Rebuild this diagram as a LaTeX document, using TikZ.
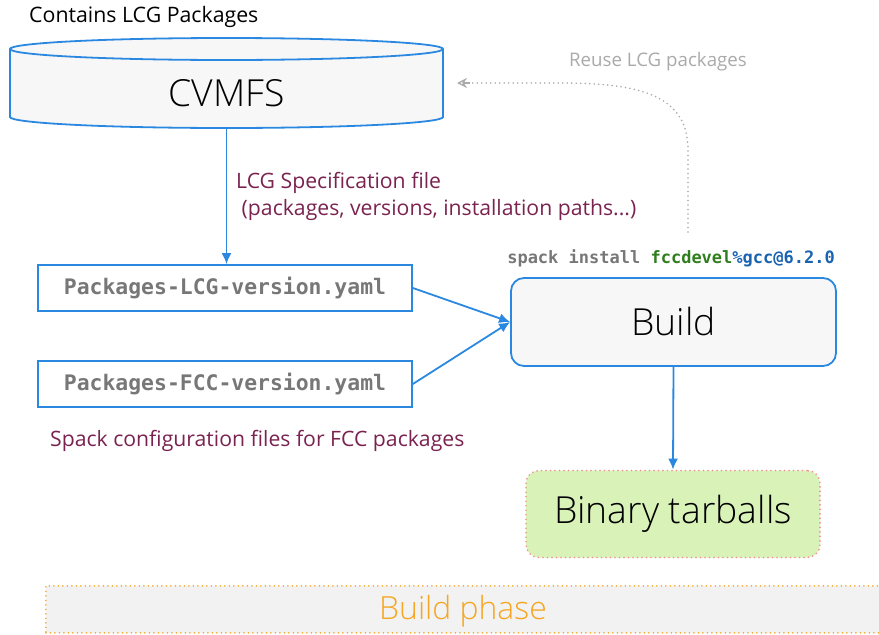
\documentclass[tikz,border=0pt]{standalone}
\usepackage{fontspec}
\setmainfont{Open Sans}
\newfontfamily\lightfont{Open Sans Light}
\setmonofont{DejaVu Sans Mono}
\usetikzlibrary{arrows.meta,shapes.geometric}
\definecolor{cblue}{HTML}{2B88E0}
\definecolor{cmaroon}{HTML}{7A2350}
\definecolor{cgraytxt}{HTML}{777777}
\definecolor{cgreen}{HTML}{2F7D1C}
\definecolor{cbluetxt}{HTML}{1A63B0}
\definecolor{cfill}{HTML}{F7F7F7}
\definecolor{cgreenfill}{HTML}{D8F2B8}
\definecolor{cpink}{HTML}{F09090}
\definecolor{corange}{HTML}{F5A623}
\definecolor{cphase}{HTML}{F2F2F2}
\definecolor{creuse}{HTML}{AAAAAA}
\tikzset{
  conn/.style={draw=cblue, line width=1.8pt, -{Latex[length=11pt,width=10pt]}},
  yamlbox/.style={draw=cblue, line width=1.7pt, fill=white, minimum width=374pt, minimum height=46pt, inner sep=0pt, font=\fontsize{21.4}{24}\selectfont\ttfamily\bfseries, text=cgraytxt},
  note/.style={font=\fontsize{21.2}{25}\selectfont, text=cmaroon, inner sep=0pt, anchor=west},
  bigtxt/.style={font=\lightfont\fontsize{37.3}{42}\selectfont},
  dotline/.style={line cap=round, dash pattern=on 0pt off 4.5pt}
}
\begin{document}
\begin{tikzpicture}[x=1pt,y=-1pt]
\useasboundingbox (0,0) rectangle (879,635);
% build phase
\node[draw=corange, fill=cphase, line width=1.8pt, dotline, minimum width=840pt, minimum height=47pt, anchor=north west, inner sep=0pt] (phase) at (45,585) {};
\node[font=\lightfont\fontsize{31.9}{35}\selectfont, text=corange] (phasetxt) at (463,611) {Build phase};
% CVMFS cylinder
\path[draw=cblue, fill=cfill, line width=1.8pt] (10,49) -- (10,117) arc[start angle=180, end angle=360, x radius=216.5pt, y radius=11pt] -- (443,49) arc[start angle=0, end angle=180, x radius=216.5pt, y radius=11pt] -- cycle;
\draw[cblue, line width=1.8pt] (10,49) arc[start angle=180, end angle=360, x radius=216.5pt, y radius=11pt];
\node[inner sep=0pt, minimum width=433pt, minimum height=90pt] (cvmfs) at (226.5,83) {};
\node[bigtxt] (cvmfstxt) at (226.5,93) {CVMFS};
\coordinate (cvbot) at (226.5,128);
\node[font=\fontsize{21.3}{25}\selectfont, anchor=west, inner sep=0pt] (contains) at (29,17) {Contains LCG Packages};
% yaml boxes
\node[yamlbox] (lcg) at (225,288) {\raisebox{-1pt}{Packages-LCG-version.yaml}};
\node[yamlbox] (fcc) at (225,384) {\raisebox{-1pt}{Packages-FCC-version.yaml}};
\node[note] (spec1) at (236,183) {LCG Specification file};
\node[note] (spec2) at (236,210) {\ (packages, versions, installation paths...)};
\node[note] (spackcfg) at (50,441) {Spack configuration files for FCC packages};
% build
\node[draw=cblue, fill=cfill, line width=1.8pt, rounded corners=13pt, minimum width=325pt, minimum height=88pt, inner sep=0pt, bigtxt] (build) at (673.5,322) {\raisebox{-2pt}{Build}};
\node[font=\fontsize{17}{20}\selectfont\ttfamily\bfseries, anchor=east, inner sep=0pt] (cmd) at (835,258) {\textcolor{cgraytxt}{spack install }\textcolor{cgreen}{fccdevel}\textcolor{cbluetxt}{\%gcc@6.2.0}};
% binary
\node[draw=cpink, fill=cgreenfill, line width=1.8pt, dotline, rounded corners=13pt, minimum width=294pt, minimum height=87pt, inner sep=0pt, bigtxt] (bin) at (673,514) {\raisebox{-3pt}{Binary tarballs}};
% connectors
\draw[conn] (cvbot) -- (lcg.north -| cvbot);
\draw[conn] (lcg.east) -- (build.west);
\draw[conn] (fcc.east) -- (build.west);
\draw[conn] (build.south) -- (bin.north);
% reuse
\coordinate (rstart) at (688,232);
\coordinate (rend) at (457,83);
\draw[creuse, line width=1.8pt, dotline] (rstart) -- (688,150) .. controls (688,95) and (640,83) .. (560,83) -- (470,83);
\draw[creuse, line width=1.3pt, -{Stealth[length=10pt,width=10pt,open]}] (470,83) -- (rend);
\node[font=\fontsize{18.7}{22}\selectfont, text=creuse] (reuse) at (658,62) {Reuse LCG packages};
\end{tikzpicture}
\end{document}
